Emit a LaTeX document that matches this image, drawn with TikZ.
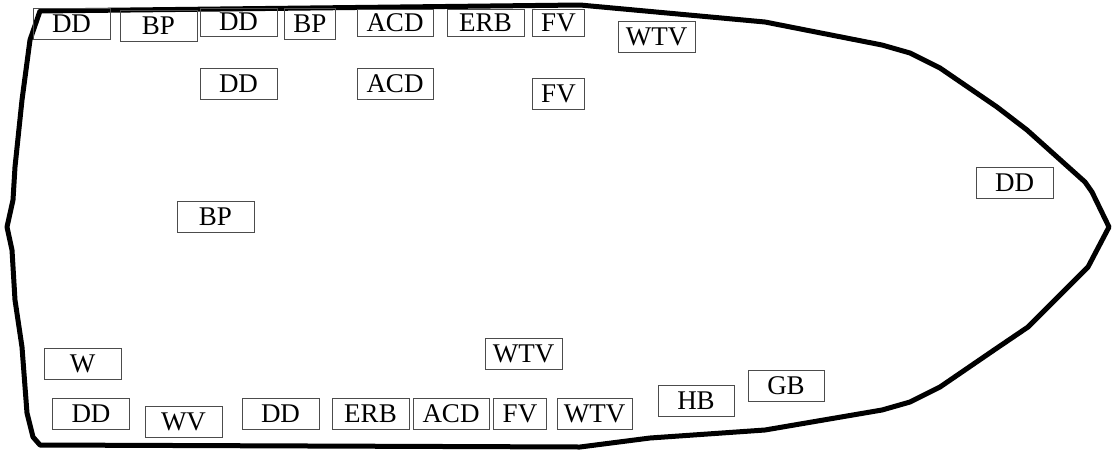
\documentclass[tikz,border=0pt]{standalone}
\usepackage{fontspec}
\setmainfont{Liberation Serif}
\usepackage{tikz}

\begin{document}
\begin{tikzpicture}[x=1pt, y=-1pt,
        tag/.style={draw=black!70, line width=0.9pt, minimum width=77pt, minimum height=31pt,
            inner sep=0pt, font=\fontsize{27}{31}\selectfont},
        slimtag/.style={tag, minimum width=0pt, inner xsep=9pt},
        hull/.style={line width=5pt, line join=round}]
        \useasboundingbox (0,0) rectangle (1112,451);
        % hull outline
        \draw[hull] (40,11) -- (580,5) -- (765,22) -- (882,45) -- (910,53) -- (940,68)
            -- (997,107) -- (1027,130) -- (1085,182) -- (1092,192) -- (1109,227)
            -- (1088,267) -- (1028,327) -- (997,348) -- (940,387) -- (910,402)
            -- (882,410) -- (765,430) -- (650,438) -- (580,447) -- (40,445)
            -- (33,437) -- (27,413) -- (22,347) -- (15,300) -- (12,250) -- (7,227)
            -- (13,200) -- (15,167) -- (22,100) -- (30,40) -- cycle;
        % top row
        \node[tag] (dd1) at (71.5,24) {DD};
        \node[tag] (bp1) at (158.5,25.5) {BP};
        \node[tag, minimum height=28pt] (dd2) at (238.5,22) {DD};
        \node[slimtag] (bp2) at (310,23.5) {BP};
        \node[tag, minimum width=76pt, minimum height=27pt] (acd1) at (395,22.5) {ACD};
        \node[tag, minimum height=27pt] (erb1) at (485.5,22.5) {ERB};
        \node[slimtag, minimum height=27pt] (fv1) at (558.5,22.5) {FV};
        \node[tag] (wtv1) at (656.5,37) {WTV};
        % second row
        \node[tag] (dd3) at (238.5,83.5) {DD};
        \node[tag, minimum width=76pt] (acd2) at (395,83.5) {ACD};
        \node[slimtag] (fv2) at (558.5,93.5) {FV};
        % middle
        \node[tag] (bp3) at (215.5,217) {BP};
        \node[tag] (dd4) at (1014.5,183) {DD};
        % bottom rows
        \node[tag] (w) at (82.5,363.5) {W};
        \node[tag] (wtv2) at (523.5,353.5) {WTV};
        \node[tag] (dd5) at (91,413.5) {DD};
        \node[tag] (wv) at (183.5,421.5) {WV};
        \node[tag] (dd6) at (280.5,413.5) {DD};
        \node[tag] (erb2) at (370.5,413.5) {ERB};
        \node[tag, minimum width=76pt] (acd3) at (451,413.5) {ACD};
        \node[slimtag] (fv3) at (520,413.5) {FV};
        \node[tag, minimum width=75pt] (wtv3) at (594.5,413.5) {WTV};
        \node[tag, minimum width=76pt] (hb) at (696,400.5) {HB};
        \node[tag, minimum width=76pt] (gb) at (786,386) {GB};
        \end{tikzpicture}
\end{document}
